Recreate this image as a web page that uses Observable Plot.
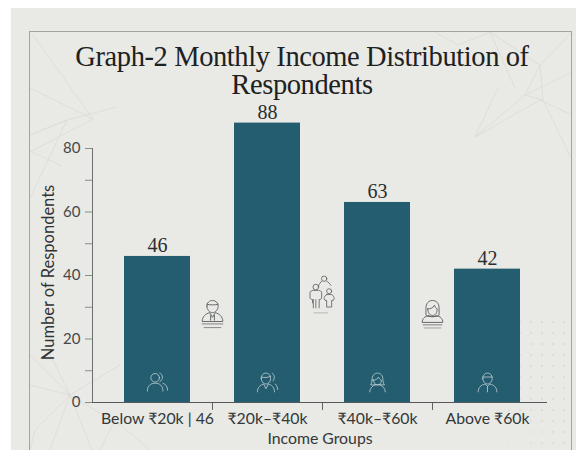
<!DOCTYPE html>
<html lang="en">
<head>
<meta charset="utf-8">
<title>Monthly Income Distribution of Respondents</title>
<script src="https://cdn.jsdelivr.net/npm/d3@7"></script>
<script src="https://cdn.jsdelivr.net/npm/@observablehq/plot@0.6"></script>
<style>
  html, body { margin: 0; padding: 0; background: #fff; }
  #page { position: relative; width: 576px; height: 450px; overflow: hidden; }
  #paper { position: absolute; left: 11px; top: 8px; right: 0; bottom: 0; background: #e9e9e5; }
  #frame { position: absolute; left: 29px; top: 31px; width: 543px; height: 430px;
           border: 1px solid #a3a5a0; box-sizing: border-box; }
  #backdrop, #chart { position: absolute; left: 0; top: 0; }
  #heading { position: absolute; left: 22px; top: 42.5px; width: 560px; margin: 0; text-align: center;
             white-space: nowrap; font: 400 28.5px/28px "Liberation Serif", serif;
             letter-spacing: -0.4px; color: #1d2122; }
  #chart svg { background: transparent; overflow: visible; }
</style>
</head>
<body>
<div id="page">
  <div id="paper"></div>
  <svg id="backdrop" width="576" height="450" viewBox="0 0 576 450">
    <defs>
      <pattern id="dots" width="11" height="11" patternUnits="userSpaceOnUse">
        <circle cx="3" cy="3" r="0.9" fill="#d7d8d3"/>
      </pattern>
      <linearGradient id="fade" x1="0" y1="1" x2="1" y2="0">
        <stop offset="0" stop-color="#fff" stop-opacity="0"/>
        <stop offset="0.5" stop-color="#fff" stop-opacity="1"/>
      </linearGradient>
      <mask id="fadeMask"><rect x="470" y="320" width="103" height="130" fill="url(#fade)"/></mask>
    </defs>
    <rect x="470" y="320" width="103" height="130" fill="url(#dots)" mask="url(#fadeMask)"/>
    <g fill="none" stroke="#dcddd8" stroke-width="0.9">
      <!-- faceted line work, top left -->
      <path d="M33 35 L93 119 L30 88 M30 135 L67 120 L117 107 M93 119 L30 152 M30 151 L62 166 M30 198 L67 120 L30 135"/>
      <!-- top right -->
      <path d="M435 32 L458 45 L490 32 L515 88 M490 32 L540 65 L572 32 M540 65 L525 95 L572 72 M525 95 L475 137 L498 88 M475 137 L540 100 L572 115 M540 65 L543 100 L572 160 M543 100 L525 95"/>
      <!-- bottom left -->
      <path d="M30 355 L70 395 L30 385 M70 395 L48 350 M70 395 L120 365 M70 395 L35 430 L30 450 M70 395 L50 450 M70 395 L92 450 M70 395 L120 425 M100 450 L115 420 L150 450"/>
    </g>
  </svg>
  <div id="frame"></div>
  <h1 id="heading">Graph-2 Monthly Income Distribution of<br>Respondents</h1>
  <div id="chart"></div>
</div>
<script>
// Survey counts per income band
const categories = ["Below ₹20k | 46", "₹20k–₹40k", "₹40k–₹60k", "Above ₹60k"];
const respondents = [46, 88, 63, 42];
const yTicks = [0, 10, 20, 30, 40, 50, 60, 70, 80];

const barColor = "#245c70";
const labelFont = "Lato, 'Noto Sans', sans-serif";

// Line-art pictograms, one per bar and one per gap between bars
const svgIcon = (stroke, body, box = "0 0 32 32") =>
  "data:image/svg+xml;utf8," + encodeURIComponent(
    `<svg xmlns="http://www.w3.org/2000/svg" viewBox="${box}" fill="none" stroke="${stroke}" stroke-width="1" stroke-linecap="round" stroke-linejoin="round">${body}</svg>`);

const groupBody = `<circle cx="13" cy="10" r="5.5"/><path d="M3 27c0-7 4-10 10-10s10 3 10 10"/><path d="M19 4c4 1 5 8 0 11M23 17c4 1 6 5 6 9"/>`;
const workerBody = `<path d="M8 11c0-5 3-7 6-7s6 2 6 7c0 4-3 7-6 7s-6-3-6-7z"/><path d="M8 9c3 1 9 1 12-1"/><path d="M3 28c0-6 4-9 8-10l3 6 3-6c4 1 8 4 8 10"/><path d="M22 4c3 2 4 7 1 10M26 18c2 2 3 4 3 7"/>`;
const womanBody = `<path d="M9 13c0-6 3-9 7-9s7 3 7 9c0 3 1 5 2 6H7c1-1 2-3 2-6z"/><path d="M11 13c2 0 5-1 6-4 1 2 3 4 4 4 0 4-2 6-5 6s-5-2-5-6z"/><path d="M6 28c0-5 4-8 7-9M26 28c0-5-4-8-7-9"/>`;
const manBody = `<path d="M10 11c0-5 3-7 6-7s6 2 6 7c0 4-3 7-6 7s-6-3-6-7z"/><path d="M10 9h12"/><path d="M4 28c0-6 4-9 9-10l3 3 3-3c5 1 9 4 9 10"/><path d="M16 21v7"/>`;

const doctorBody = `<path d="M10 8c0-4 3-6 6-6s6 2 6 6c0 4-3 7-6 7s-6-3-6-7z"/><path d="M10 6c3 1 9 1 12 0"/><path d="M5 24c0-5 4-8 8-9l3 5 3-5c4 1 8 4 8 9z"/><path d="M14 18v5M18 18v5"/><path d="M5 27h22M7 31h18" stroke-width="0.8"/>`;
const familyBody = `<circle cx="20" cy="5" r="3.2"/><path d="M13 14c1-3 3-5 4-6M23 8c2 1 4 3 5 5"/><circle cx="10" cy="15" r="3.4"/><path d="M6 34v-4c-2 0-3-1-3-3v-5c0-2 2-3 4-3h6c2 0 4 1 4 3v5c0 2-1 3-3 3v10M10 30v10M7 30v10"/><circle cx="26" cy="20" r="3"/><path d="M23 24h6c2 1 3 3 3 5l-1 2h-2v8h-6v-8h-2l-1-2c0-2 1-4 3-5z"/><path d="M8 46h16" stroke-opacity="0.45"/>`;
const advisorBody = `<path d="M9 10c0-5 3-8 7-8s7 3 7 8v7c0 1-1 2-2 2H11c-1 0-2-1-2-2z"/><path d="M11 11c3 0 6-1 7-4 1 2 2 4 3 4 0 4-2 7-5 7s-5-3-5-7z"/><path d="M5 25c0-4 3-6 7-7 2 2 6 2 8 0 4 1 7 3 7 7z"/><path d="M6 28h20M7 31.500h18" stroke-width="0.8"/>`;

const barIcons = [
  {category: categories[0], src: svgIcon("#c3d3d6", groupBody)},
  {category: categories[1], src: svgIcon("#c3d3d6", workerBody)},
  {category: categories[2], src: svgIcon("#c3d3d6", womanBody)},
  {category: categories[3], src: svgIcon("#c3d3d6", manBody)}
];
const gapIcons = [
  {category: categories[0], level: 28, src: svgIcon("#5f6365", doctorBody)},
  {category: categories[2], level: 28, src: svgIcon("#5f6365", advisorBody)}
];
const familyIcon = [
  {category: categories[1], level: 34, src: svgIcon("#5f6365", familyBody, "0 0 36 48")}
];

const bars = respondents.map((value, i) => ({category: categories[i], value}));

const plot = Plot.plot({
  width: 576,
  height: 450,
  marginTop: 148,
  marginBottom: 48,
  marginLeft: 92,
  marginRight: 29,
  style: {background: "transparent", fontFamily: labelFont},
  x: {domain: categories, range: [102, 542], paddingInner: 0.4, paddingOuter: 0.2},
  y: {domain: [0, 80]},
  marks: [
    Plot.barY(bars, {x: "category", y: "value", fill: barColor}),
    // Category ticks fall on the gaps between the bars
    Plot.ruleX(categories.slice(0, 3), {y1: 0, y2: -2.5, dx: 55, stroke: "#5e6364"}),
    Plot.ruleX(categories.slice(0, 1), {y1: 0, y2: 80, dx: -65, stroke: "#6b6f70"}),
    Plot.ruleY([0], {stroke: "#55595b"}),
    Plot.axisY({
      ticks: yTicks, tickSize: 7, tickPadding: 5, fontSize: 15,
      tickFormat: d => (d % 20 ? "" : d),
      stroke: "#8a8d8c", fill: "#45494b", label: null
    }),
    Plot.text(["Number of Respondents"], {
      frameAnchor: "left", textAnchor: "middle", rotate: -90, dx: -44, dy: -3,
      fontSize: 16.5, fill: "#2f3335"
    }),
    Plot.axisX({
      tickSize: 0, tickPadding: 10, fontSize: 15.8, fill: "#34383a",
      label: "Income Groups", labelAnchor: "center", labelArrow: "none", labelOffset: 41
    }),
    Plot.text(bars, {
      x: "category", y: "value", text: "value", dy: -11,
      fontFamily: "'Liberation Serif', serif", fontSize: 20, fill: "#2a2e30"
    }),
    Plot.image(barIcons, {x: "category", y: 6.3, src: "src", width: 25, height: 25}),
    Plot.image(gapIcons, {x: "category", y: "level", dx: 55, src: "src", width: 30, height: 30}),
    Plot.image(familyIcon, {x: "category", y: "level", dx: 55, src: "src", width: 30, height: 40})
  ]
});

document.getElementById("chart").append(plot);
</script>
</body>
</html>
